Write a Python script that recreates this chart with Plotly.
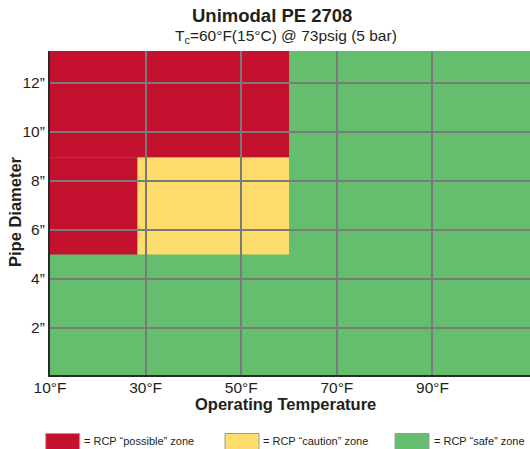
import plotly.graph_objects as go

# ---- data ----
zone_names = ["possible", "possible", "caution", "safe"]
zone_x0 = [10, 10, 28.3, 10]
zone_x1 = [60, 28.3, 60, 110.4]
zone_y0 = [8.95, 5.0, 5.0, 0.0]
zone_y1 = [13.3, 8.95, 8.95, 13.3]
zone_colors = {"possible": "#C4112F", "caution": "#FFDC6E", "safe": "#64BE6E"}

x_tickvals = [10, 30, 50, 70, 90]
x_ticktext = ["10°F", "30°F", "50°F", "70°F", "90°F"]
y_tickvals = [2, 4, 6, 8, 10, 12]
y_ticktext = ["2\u201d", "4\u201d", "6\u201d", "8\u201d", "10\u201d", "12\u201d"]

legend_labels = ["= RCP \u201cpossible\u201d zone", "= RCP \u201ccaution\u201d zone", "= RCP \u201csafe\u201d zone"]
legend_keys = ["possible", "caution", "safe"]

FONT = "Liberation Sans, Arial, sans-serif"
TXT = "#231F20"

W, H = 530, 449
L, R, T, B = 50, 0, 51, 74
pw, ph = W - L - R, H - T - B


def px_x(p):
    return (p - L) / pw


def px_y(p):
    return (H - B - p) / ph


fig = go.Figure()

order = [3, 0, 1, 2]
shapes = []
for i in order:
    shapes.append(dict(type="rect", xref="x", yref="y",
                       x0=zone_x0[i], x1=zone_x1[i], y0=zone_y0[i], y1=zone_y1[i],
                       fillcolor=zone_colors[zone_names[i]], line=dict(width=0),
                       layer="below"))

# legend swatches
sw_left = [45.7, 225, 395]
for k, xl in zip(legend_keys, sw_left):
    border = "#E8858F" if k == "possible" else "#9A9A9A"
    shapes.append(dict(type="rect", xref="paper", yref="paper",
                       x0=px_x(xl), x1=px_x(xl + 34), y0=px_y(433.5), y1=px_y(450),
                       fillcolor=zone_colors[k], line=dict(color=border, width=1)))

annotations = []
text_left = [82, 261, 432]
for lab, xt in zip(legend_labels, text_left):
    annotations.append(dict(xref="paper", yref="paper", x=px_x(xt), y=px_y(441),
                            text=lab, showarrow=False, xanchor="left", yanchor="middle",
                            font=dict(family=FONT, size=11, color=TXT)))

annotations.append(dict(xref="paper", yref="paper", x=px_x(272), y=px_y(16),
                        text="<b>Unimodal PE 2708</b>", showarrow=False,
                        xanchor="center", yanchor="middle",
                        font=dict(family=FONT, size=18.5, color=TXT)))
annotations.append(dict(xref="paper", yref="paper", x=px_x(286), y=px_y(36),
                        text="T<sub>c</sub>=60°F(15°C) @ 73psig (5 bar)", showarrow=False,
                        xanchor="center", yanchor="middle",
                        font=dict(family=FONT, size=15.5, color=TXT)))
annotations.append(dict(xref="paper", yref="paper", x=px_x(285), y=px_y(404),
                        text="<b>Operating Temperature</b>", showarrow=False,
                        xanchor="center", yanchor="middle",
                        font=dict(family=FONT, size=16.5, color=TXT)))
annotations.append(dict(xref="paper", yref="paper", x=px_x(15), y=px_y(212),
                        text="<b>Pipe Diameter</b>", showarrow=False, textangle=-90,
                        xanchor="center", yanchor="middle",
                        font=dict(family=FONT, size=16.5, color=TXT)))

fig.update_layout(
    width=W, height=H,
    margin=dict(l=L, r=R, t=T, b=B),
    paper_bgcolor="white", plot_bgcolor="white",
    showlegend=False,
    shapes=shapes, annotations=annotations,
    xaxis=dict(range=[10, 110.4], tickvals=x_tickvals, ticktext=x_ticktext,
               showgrid=True, gridcolor="#7A7A7A", gridwidth=2,
               showline=True, linecolor="#2A2A2A", linewidth=2,
               ticks="", zeroline=False, fixedrange=True, ticklabelstandoff=-3,
               tickfont=dict(family=FONT, size=15.5, color=TXT)),
    yaxis=dict(range=[0.08, 13.3], tickvals=y_tickvals, ticktext=y_ticktext,
               showgrid=True, gridcolor="#7A7A7A", gridwidth=2,
               showline=True, linecolor="#2A2A2A", linewidth=2,
               ticks="", zeroline=False, fixedrange=True, ticklabelstandoff=0,
               tickfont=dict(family=FONT, size=15.5, color=TXT)),
)

fig.write_html("out.html", config={"displayModeBar": False},
               post_script="document.body.style.margin='0';document.body.style.overflow='hidden';")
